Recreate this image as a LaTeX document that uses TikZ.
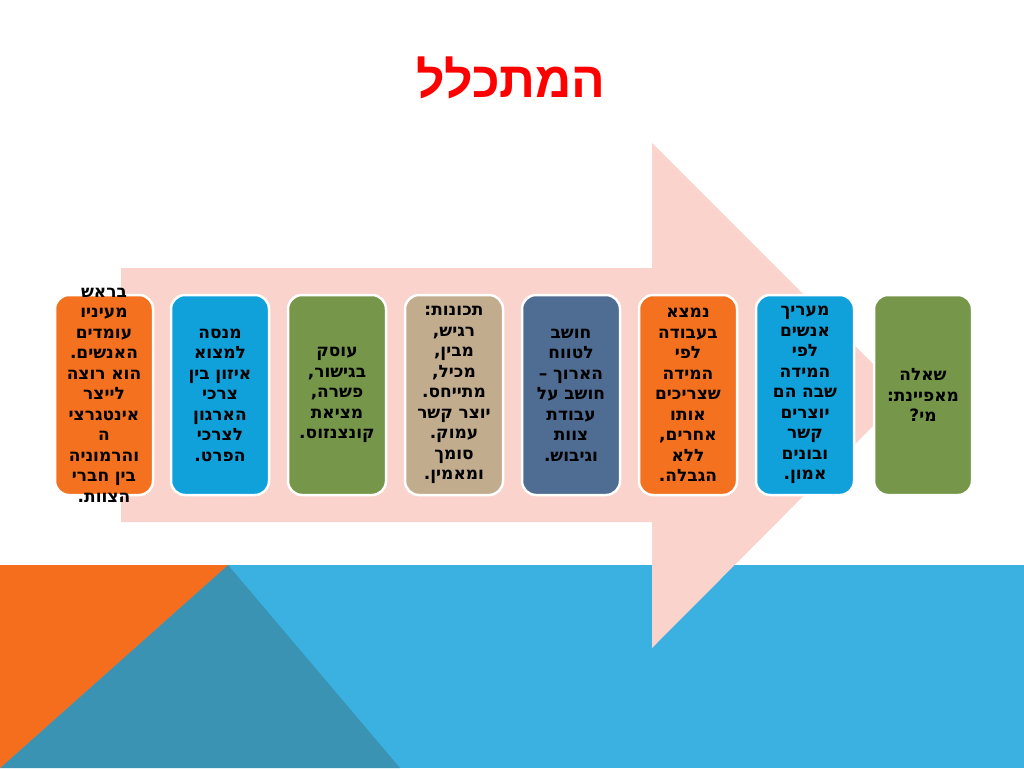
\documentclass[tikz,border=0pt]{standalone}
\usepackage{fontspec}
\usepackage{xcolor}
\usepackage{tikz}
\TeXXeTstate=1
\newfontfamily\hebfont[Script=Hebrew]{DejaVu Sans}
\newfontfamily\titlefont[Script=Hebrew]{Liberation Sans}
\newcommand{\heb}[1]{\beginR #1\endR}
\definecolor{bandblue}{HTML}{3AB1E0}
\definecolor{bandteal}{HTML}{3A93B3}
\definecolor{bandorange}{HTML}{F46E1E}
\definecolor{arrowpink}{HTML}{F9D3CC}
\definecolor{boxorange}{HTML}{F4711F}
\definecolor{boxblue}{HTML}{10A0DA}
\definecolor{boxgreen}{HTML}{76974A}
\definecolor{boxtan}{HTML}{C2AC8E}
\definecolor{boxslate}{HTML}{4F6C93}
\tikzset{
  stepbox/.style={draw=white, line width=2.5pt, rounded corners=14pt,
    minimum width=98pt, minimum height=200pt, inner sep=0pt},
  steptext/.style={text width=112pt, align=center, inner sep=0pt,
    font=\hebfont\bfseries\fontsize{17}{20.5}\selectfont}
}

\begin{document}
\begin{tikzpicture}[x=1pt,y=-1pt]
        \useasboundingbox (0,0) rectangle (1024,768);
        % background band
        \fill[bandblue] (0,565) rectangle (1024,768);
        \fill[bandteal] (228,565) -- (400,768) -- (0,768) -- cycle;
        \fill[bandorange] (0,565) -- (228,565) -- (0,768) -- cycle;
        % big arrow
        \fill[arrowpink] (121,268) -- (652,268) -- (652,143) -- (904,395)
            -- (652,648) -- (652,522) -- (121,522) -- cycle;
        \node[text=red, font=\titlefont\bfseries\fontsize{50}{54}\selectfont] (title) at (511,78) {\heb{המתכלל}};
        % boxes
        \node[stepbox, fill=boxorange] (b1) at (104,395) {};
        \node[stepbox, fill=boxblue] (b2) at (220,395) {};
        \node[stepbox, fill=boxgreen] (b3) at (337,395) {};
        \node[stepbox, fill=boxtan] (b4) at (454,395) {};
        \node[stepbox, fill=boxslate] (b5) at (571,395) {};
        \node[stepbox, fill=boxorange] (b6) at (688,395) {};
        \node[stepbox, fill=boxblue] (b7) at (805,395) {};
        \node[stepbox, fill=boxgreen] (b8) at (923,395) {};
        % texts (single words with punctuation are left as one word)
        \node[steptext] (t1) at (b1.center) {\heb{בראש}\\ \heb{מעיניו}\\ \heb{עומדים}\\ האנשים.\\ \heb{הוא רוצה}\\ \heb{לייצר}\\ \heb{אינטגרצי}\\ \heb{ה}\\ \heb{והרמוניה}\\ \heb{בין חברי}\\ הצוות.};
        \node[steptext] (t2) at (b2.center) {\heb{מנסה}\\ \heb{למצוא}\\ \heb{איזון בין}\\ \heb{צרכי}\\ \heb{הארגון}\\ \heb{לצרכי}\\ הפרט.};
        \node[steptext] (t3) at (b3.center) {\heb{עוסק}\\ בגישור,\\ פשרה,\\ \heb{מציאת}\\ קונצנזוס.};
        \node[steptext] (t4) at (b4.center) {תכונות:\\ רגיש,\\ מבין,\\ מכיל,\\ מתייחס.\\ \heb{יוצר קשר}\\ עמוק.\\ \heb{סומך}\\ ומאמין.};
        \node[steptext] (t5) at (b5.center) {\heb{חושב}\\ \heb{לטווח}\\ \heb{הארוך –}\\ \heb{חושב על}\\ \heb{עבודת}\\ \heb{צוות}\\ וגיבוש.};
        \node[steptext] (t6) at (b6.center) {\heb{נמצא}\\ \heb{בעבודה}\\ \heb{לפי}\\ \heb{המידה}\\ \heb{שצריכים}\\ \heb{אותו}\\ אחרים,\\ \heb{ללא}\\ הגבלה.};
        \node[steptext] (t7) at (b7.center) {\heb{מעריך}\\ \heb{אנשים}\\ \heb{לפי}\\ \heb{המידה}\\ \heb{שבה הם}\\ \heb{יוצרים}\\ \heb{קשר}\\ \heb{ובונים}\\ אמון.};
        \node[steptext] (t8) at (b8.center) {\heb{שאלה}\\ מאפיינת:\\ מי?};
\end{tikzpicture}
\end{document}
